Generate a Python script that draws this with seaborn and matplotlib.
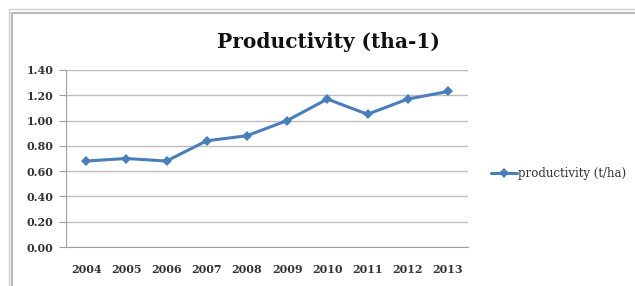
import matplotlib
matplotlib.use('Agg')
import matplotlib.pyplot as plt
from matplotlib.lines import Line2D
import seaborn as sns
import pandas as pd

# Chart data
years = ['2004', '2005', '2006', '2007', '2008', '2009', '2010', '2011', '2012', '2013']
productivity = [0.68, 0.70, 0.68, 0.84, 0.88, 1.00, 1.17, 1.05, 1.17, 1.23]
y_ticks = [0.0, 0.2, 0.4, 0.6, 0.8, 1.0, 1.2, 1.4]
series_name = 'productivity (t/ha)'

data = pd.DataFrame({'year': years, 'value': productivity})

sns.set_style('white')
plt.rcParams['font.family'] = ['DejaVu Serif']

fig = plt.figure(figsize=(6.35, 2.86), dpi=100)
ax = fig.add_axes([66 / 635, 1 - 247 / 286, 402 / 635, 177 / 286])

sns.lineplot(data=data, x='year', y='value', ax=ax, color='#4A7EBB', linewidth=2.2,
             marker='D', markersize=5.5, markeredgewidth=0, label=series_name, sort=False)

ax.set_xlim(-0.5, len(years) - 0.5)
ax.set_ylim(0, 1.4)
ax.set_yticks(y_ticks)
ax.set_yticklabels([f'{v:.2f}' for v in y_ticks], fontsize=8, fontweight='bold', color='#333333')
ax.set_xticks(range(len(years)))
ax.set_xticklabels(years, fontsize=8, fontweight='bold', color='#333333')
ax.set_xlabel('')
ax.set_ylabel('')

ax.grid(axis='y', color='#BEBEBE', linewidth=1)
ax.set_axisbelow(True)
for side in ['top', 'right']:
    ax.spines[side].set_visible(False)
ax.spines['left'].set_color('#A0A0A0')
ax.spines['bottom'].set_color('#A0A0A0')
ax.tick_params(axis='x', length=4, color='#A0A0A0', pad=12, bottom=True)
ax.tick_params(axis='y', length=5, color='#A0A0A0', pad=4, left=True)
ax.set_xticks([i + 0.5 for i in range(-1, len(years))], minor=True)
ax.tick_params(axis='x', which='minor', length=4, color='#A0A0A0')
ax.tick_params(axis='x', which='major', length=0)

fig.text(328 / 635, 1 - 42 / 286, 'Productivity (tha-1)', ha='center', va='center',
         fontsize=14.5, fontweight='bold', color='#111111')

ax.legend(loc='center left', bbox_to_anchor=(486 / 402 - 66 / 402, (247 - 174) / 177),
          frameon=False, fontsize=8.5, handlelength=2.2, handletextpad=0.1,
          borderaxespad=0)
for t in ax.get_legend().get_texts():
    t.set_color('#333333')

# Outer border lines of the cropped chart frame
fig.add_artist(Line2D([9 / 635, 9 / 635], [0, 1 - 9 / 286], color='#D0D0D0', linewidth=1))
fig.add_artist(Line2D([12 / 635, 12 / 635], [0, 1 - 13 / 286], color='#B8B8B8', linewidth=1.5))
fig.add_artist(Line2D([9 / 635, 1], [1 - 9 / 286, 1 - 9 / 286], color='#D0D0D0', linewidth=1))
fig.add_artist(Line2D([12 / 635, 1], [1 - 13 / 286, 1 - 13 / 286], color='#B8B8B8', linewidth=1.5))

fig.savefig('out.png', dpi=100)
